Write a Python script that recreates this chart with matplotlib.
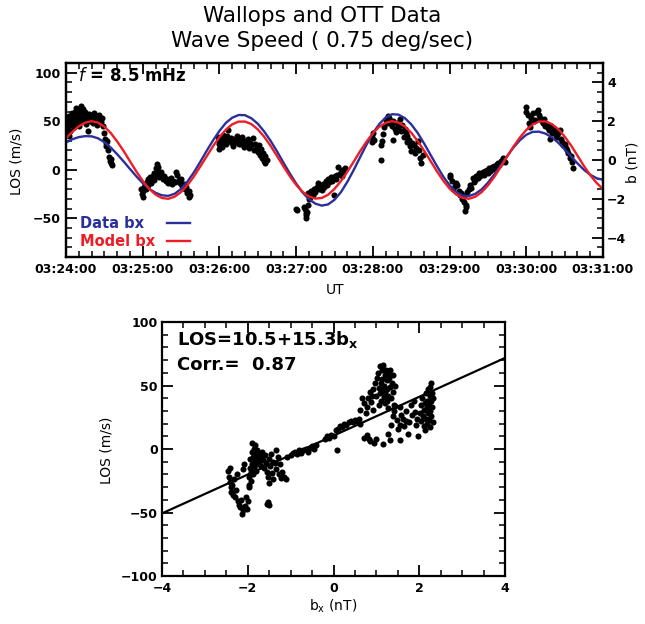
import matplotlib
matplotlib.use('Agg')
import matplotlib.pyplot as plt
import numpy as np
from matplotlib.ticker import MultipleLocator

plt.rcParams['font.family'] = ['DejaVu Sans']

# time axis: seconds after 03:24:00
ut_ticks = [0, 60, 120, 180, 240, 300, 360, 420]
ut_labels = ['03:24:00', '03:25:00', '03:26:00', '03:27:00',
             '03:28:00', '03:29:00', '03:30:00', '03:31:00']

# bx curves (nT), sampled every 5 s from 03:24:00
bx_t = np.arange(0, 425, 5)
bx_data = [0.90, 1.07, 1.18, 1.23, 1.22, 1.12, 0.92, 0.64, 0.30, -0.07,
           -0.46, -0.84, -1.19, -1.48, -1.69, -1.82, -1.85, -1.74, -1.49, -1.11,
           -0.64, -0.10, 0.47, 1.01, 1.50, 1.91, 2.18, 2.32, 2.31, 2.15,
           1.87, 1.47, 0.99, 0.45, -0.13, -0.69, -1.21, -1.67, -2.02, -2.25,
           -2.35, -2.29, -2.05, -1.66, -1.13, -0.52, 0.14, 0.79, 1.38, 1.85,
           2.19, 2.36, 2.34, 2.16, 1.84, 1.40, 0.86, 0.28, -0.30, -0.85,
           -1.30, -1.64, -1.83, -1.86, -1.75, -1.52, -1.17, -0.74, -0.27, 0.20,
           0.65, 1.02, 1.30, 1.45, 1.46, 1.36, 1.17, 0.89, 0.55, 0.19,
           -0.17, -0.50, -0.76, -0.94, -1.02]
bx_model = [1.12, 1.45, 1.74, 1.93, 2.00, 1.93, 1.72, 1.39, 0.96, 0.47,
            -0.06, -0.59, -1.07, -1.48, -1.78, -1.96, -2.00, -1.89, -1.65, -1.30,
            -0.85, -0.34, 0.19, 0.71, 1.18, 1.56, 1.84, 1.98, 1.98, 1.85,
            1.58, 1.20, 0.73, 0.21, -0.32, -0.83, -1.28, -1.64, -1.88, -1.99,
            -1.96, -1.79, -1.49, -1.09, -0.61, -0.09, 0.45, 0.94, 1.38, 1.71,
            1.92, 2.00, 1.93, 1.73, 1.41, 0.98, 0.49, -0.04, -0.57, -1.06,
            -1.47, -1.77, -1.95, -2.00, -1.90, -1.66, -1.31, -0.87, -0.36, 0.17,
            0.69, 1.16, 1.55, 1.83, 1.98, 1.99, 1.85, 1.59, 1.21, 0.75,
            0.23, -0.30, -0.78, -1.18, -1.50]

# LOS samples (seconds after 03:24:00, m/s)
top_pts = [
    (0, 38), (0.5, 45), (1, 50), (1.5, 42), (2, 35), (2, 55), (3, 48), (3.5, 40), (4, 52), (4.5, 58),
    (5, 46), (5.5, 50), (6, 44), (6.5, 55), (7, 60), (7.5, 52), (8, 64), (8.5, 48), (9, 57), (9.5, 62),
    (10, 53), (10.5, 45), (11, 60), (11.5, 66), (12, 55), (12.5, 50), (13, 63), (13.5, 58), (14, 52),
    (15, 60), (15.5, 47), (16, 55), (17, 40), (17.5, 52), (18, 57), (19, 50), (20, 55), (21, 48),
    (22, 58), (23, 53), (24, 46), (25, 52), (26, 56), (27, 49), (28, 53), (29, 45), (30, 38),
    (30.5, 32), (31, 28), (31.5, 24), (32, 30), (33, 20), (34, 13), (34.5, 9), (35, 7), (35.5, 11), (36, 5),
    (59, -20), (59.5, -25), (60, -28), (60.5, -22), (61, -18), (62, -15), (62.5, -20), (63, -13),
    (64, -16), (64.5, -10), (65, -12), (66, -8), (66.5, -14), (67, -9), (68, -6), (68.5, -11),
    (69, -3), (69.5, -7), (70, 2), (70.5, -5), (71, 6), (71.5, 0), (72, 3), (72.5, -4), (73, -8),
    (74, -2), (75, -6), (76, -10), (77, -7), (78, -12), (79, -10), (80, -14), (81, -12), (82, -9),
    (83, -15), (84, -12), (85, -13), (86, -2), (87, -5), (88, -11), (89, -14), (90, -10), (91, -17),
    (92, -15), (93, -20), (94, -18), (95, -24), (96, -22), (96.5, -28), (97, -26),
    (119, 34), (119.5, 30), (120, 26), (120, 21), (121, 33), (122, 29), (122, 23), (123, 36),
    (124, 31), (125, 27), (126, 35), (127, 41), (128, 30), (129, 33), (130, 28), (131, 24),
    (132, 32), (133, 29), (134, 35), (135, 26), (136, 31), (137, 27), (138, 34), (139, 23),
    (140, 30), (141, 26), (142, 32), (143, 22), (144, 28), (145, 25), (146, 33), (147, 20),
    (148, 27), (149, 23), (150, 18), (151, 25), (152, 15), (152.5, 21), (153, 12), (154, 17),
    (155, 9), (155.5, 14), (156, 7), (157, 10),
    (180, -40), (181, -42), (186, -38), (187, -41), (187.5, -45), (188, -47), (188, -50),
    (188.5, -44), (189, -36), (189.5, -24), (190, -30), (191, -28), (192, -22), (193, -26),
    (194, -20), (195, -23), (196, -18), (197, -14), (198, -20), (199, -17), (200, -21),
    (201, -15), (202, -18), (203, -12), (204, -16), (205, -10), (206, -13), (207, -8),
    (208, -12), (209, -9), (209.5, -26), (210, -6), (211, -10), (212, -5), (213, 3),
    (214, -4), (215, -2), (215.5, -7), (216, 0), (217, -3), (218, 2),
    (239, 34), (239.5, 29), (240, 38), (241, 31), (246, 25), (246, 10), (247, 30), (248, 37),
    (249, 44), (250, 51), (251, 48), (252, 55), (253, 53), (254, 47), (255, 45), (255.5, 50),
    (256, 31), (257, 42), (258, 39), (259, 48), (260, 44), (261, 52), (262, 40), (263, 46),
    (264, 34), (265, 42), (266, 38), (266.5, 29), (267, 35), (268, 31), (269, 24), (270, 19),
    (271, 28), (272, 25), (273, 17), (274, 22), (275, 30), (276, 20), (277, 12), (278, 7), (279, 15),
    (300, -5), (300.5, -8), (302, -12), (303, -20), (304, -17), (305, -14), (306, -16),
    (307, -22), (308, -26), (309, -24), (310, -30), (311, -33), (311.5, -27), (312, -43),
    (312.5, -38), (313, -36), (314, -23), (315, -20), (316, -16), (317, -19), (318, -9),
    (319, -13), (320, -11), (321, -7), (322, -9), (323, -3), (324, -6), (325, -4), (326, -2),
    (327, -5), (328, -1), (329, 0), (330, -3), (331, 2), (332, -1), (333, 3), (334, 1),
    (335, 4), (336, 2), (337, 6), (338, 7), (339, 5), (340, 9), (341, 8), (342, 12), (343, 8),
    (360, 65), (360, 60), (361, 56), (362, 48), (363, 44), (364, 53), (365, 58), (366, 50),
    (367, 51), (368, 60), (369, 62), (370, 56), (371, 53), (372, 50), (373, 48), (374, 52),
    (375, 45), (376, 47), (377, 43), (378, 41), (378.5, 32), (379, 45), (380, 38), (381, 39),
    (382, 42), (383, 36), (384, 34), (385, 38), (386, 41), (387, 32), (388, 29), (389, 25),
    (390, 27), (391, 22), (392, 20), (393, 17), (394, 12), (395, 14), (395.5, 8), (396.5, 1.5),
]

# LOS vs bx scatter (nT, m/s)
bot_pts = [
    (-2.45, -17), (-2.43, -22), (-2.41, -15), (-2.41, -26), (-2.40, -30), (-2.38, -34), (-2.36, -28),
    (-2.34, -36), (-2.32, -24), (-2.30, -38), (-2.28, -32), (-2.25, -20), (-2.22, -41), (-2.20, -44),
    (-2.18, -46), (-2.16, -40), (-2.14, -51), (-2.12, -48), (-2.10, -16), (-2.08, -12), (-2.06, -45),
    (-2.04, -38), (-2.01, -47), (-1.99, -41),
    (-1.98, -28), (-1.97, -22), (-1.96, -30), (-1.95, -15), (-1.94, -8), (-1.93, -25), (-1.92, -18),
    (-1.91, -2), (-1.90, -12), (-1.89, 5), (-1.88, -20), (-1.87, -6), (-1.86, 0), (-1.85, -14),
    (-1.84, 3), (-1.83, -10), (-1.82, -4), (-1.81, -17), (-1.80, -8), (-1.79, -1), (-1.78, -12),
    (-1.77, -5),
    (-1.74, -10), (-1.72, -3), (-1.70, -7), (-1.68, -13), (-1.66, -2), (-1.64, -9), (-1.62, -15),
    (-1.60, -5), (-1.58, -11), (-1.55, -18), (-1.53, -22), (-1.51, -27), (-1.50, -8), (-1.48, -13),
    (-1.46, -4), (-1.44, -19), (-1.42, -10), (-1.40, -24), (-1.37, -11), (-1.35, -16), (-1.33, -1),
    (-1.30, -6), (-1.27, -20), (-1.25, -12), (-1.22, -23), (-1.20, -18), (-1.15, -22), (-1.10, -24),
    (-1.08, -6), (-1.56, -43), (-1.50, -44), (-1.53, -42),
    (-1.00, -5), (-0.95, -3), (-0.90, -2), (-0.85, -4), (-0.80, -1), (-0.75, -3), (-0.70, -1),
    (-0.65, 0), (-0.60, -2), (-0.55, 1), (-0.50, 2), (-0.45, 0), (-0.40, 3), (-0.20, 8),
    (-0.15, 10), (-0.10, 9), (-0.05, 11), (0.00, 10), (0.07, -1),
    (0.05, 15), (0.10, 16), (0.15, 18), (0.20, 17), (0.25, 20), (0.30, 19), (0.35, 21), (0.40, 22),
    (0.45, 21), (0.50, 23), (0.55, 22), (0.60, 24), (0.62, 20),
    (0.62, 31), (0.66, 40), (0.70, 36), (0.72, 9), (0.75, 28), (0.77, 33), (0.77, 11), (0.80, 40),
    (0.82, 8), (0.85, 45), (0.85, 6), (0.88, 37), (0.90, 42), (0.93, 47), (0.93, 31), (0.95, 5),
    (0.97, 52), (0.98, 8),
    (1.00, 42), (1.02, 56), (1.04, 60), (1.05, 48), (1.06, 35), (1.08, 65), (1.09, 44), (1.10, 52),
    (1.11, 38), (1.12, 62), (1.13, 46), (1.14, 55), (1.15, 4), (1.16, 66), (1.17, 41), (1.18, 50),
    (1.19, 58), (1.20, 36), (1.21, 45), (1.22, 62), (1.24, 38), (1.24, 54), (1.25, 47), (1.26, 60),
    (1.27, 32), (1.28, 42), (1.30, 56), (1.31, 62), (1.32, 49), (1.34, 40), (1.36, 52), (1.38, 58),
    (1.39, 45), (1.41, 35), (1.43, 50),
    (1.28, 12), (1.31, 7), (1.35, 19), (1.38, 26), (1.42, 30), (1.44, 34), (1.47, 23), (1.50, 16),
    (1.54, 19), (1.55, 7), (1.55, 33), (1.58, 27), (1.62, 24), (1.65, 18), (1.68, 30), (1.70, 22),
    (1.74, 12), (1.77, 21), (1.80, 35), (1.84, 27), (1.88, 38), (1.90, 29), (1.93, 19), (1.95, 24),
    (1.97, 10),
    (2.02, 28), (2.04, 35), (2.05, 22), (2.07, 40), (2.09, 26), (2.10, 31), (2.12, 18), (2.13, 15),
    (2.14, 36), (2.15, 24), (2.16, 44), (2.17, 20), (2.18, 33), (2.19, 38), (2.20, 28), (2.21, 47),
    (2.22, 23), (2.23, 35), (2.24, 42), (2.25, 17), (2.25, 30), (2.26, 49), (2.27, 26), (2.28, 52),
    (2.28, 38), (2.29, 44), (2.30, 33), (2.31, 21), (2.32, 40),
]

fit_a, fit_b = 10.5, 15.3
corr = 0.87

data_col = '#2a2f9c'
model_col = '#ee1c25'

fig = plt.figure(figsize=(6.45, 6.24), dpi=100)
W, H = 645., 624.

# ---------------- top panel ----------------
ax1 = fig.add_axes([66 / W, 1 - 257 / H, 537 / W, 194 / H])
ax1.set_xlim(0, 420)
ax1.set_ylim(-90, 110)
tp = np.array(top_pts)
ax1.plot(tp[:, 0], tp[:, 1], 'o', color='k', ms=4.4, mec='none')

ax2 = ax1.twinx()
ax2.set_ylim(-5, 5)
ax2.plot(bx_t, bx_data, color=data_col, lw=1.7)
ax2.plot(bx_t, bx_model, color=model_col, lw=1.7)

ax1.set_xticks(ut_ticks, ut_labels, fontweight='bold', fontsize=9)
ax1.xaxis.set_minor_locator(MultipleLocator(10))
ax1.set_yticks([-50, 0, 50, 100], ['−50', '0', '50', '100'], fontweight='bold', fontsize=9)
ax1.yaxis.set_minor_locator(MultipleLocator(10))
ax2.set_yticks([-4, -2, 0, 2, 4], ['−4', '−2', '0', '2', '4'], fontweight='bold', fontsize=9)
ax2.yaxis.set_minor_locator(MultipleLocator(0.5))

ax1.tick_params(axis='x', which='both', direction='in', top=True, bottom=True, pad=4)
ax1.tick_params(axis='y', which='both', direction='in', left=True, right=False, pad=4)
ax2.tick_params(axis='y', which='both', direction='in', right=True, left=False, pad=3)
for a in (ax1, ax2):
    a.tick_params(which='major', length=8, width=1.3)
    a.tick_params(which='minor', length=4, width=1.1)
    for s in a.spines.values():
        s.set_linewidth(1.6)

ax1.text(0.022, 0.933, r'$\it{f}$ = 8.5 mHz', transform=ax1.transAxes,
         fontsize=12, fontweight='bold', va='center', ha='left')
ax1.text(0.026, 0.173, 'Data bx', color=data_col, transform=ax1.transAxes,
         fontsize=10.5, fontweight='bold', va='center', ha='left')
ax1.text(0.026, 0.082, 'Model bx', color=model_col, transform=ax1.transAxes,
         fontsize=10.5, fontweight='bold', va='center', ha='left')
ax1.plot([0.188, 0.231], [0.173, 0.173], color=data_col, lw=1.7, transform=ax1.transAxes)
ax1.plot([0.188, 0.231], [0.082, 0.082], color=model_col, lw=1.7, transform=ax1.transAxes)

fig.text(16.5 / W, 1 - 161.5 / H, 'LOS (m/s)', rotation=90, ha='center', va='center', fontsize=10)
fig.text(633 / W, 1 - 162 / H, 'b (nT)', rotation=90, ha='center', va='center', fontsize=10)
fig.text(335 / W, 1 - 290 / H, 'UT', ha='center', va='center', fontsize=10)

fig.text(0.5, 1 - 16 / H, 'Wallops and OTT Data', ha='center', va='center',
         fontsize=15.5, color='k')
fig.text(0.5, 1 - 41 / H, 'Wave Speed ( 0.75 deg/sec)', ha='center', va='center',
         fontsize=15.5, color='k')

# ---------------- bottom panel ----------------
ax3 = fig.add_axes([162 / W, 1 - 576 / H, 343 / W, 254 / H])
ax3.set_xlim(-4, 4)
ax3.set_ylim(-100, 100)
bp = np.array(bot_pts)
ax3.plot(bp[:, 0], bp[:, 1], 'o', color='k', ms=4.4, mec='none')
fx = np.array([-4, 4])
ax3.plot(fx, fit_a + fit_b * fx, color='k', lw=1.6)

ax3.set_xticks([-4, -2, 0, 2, 4], ['−4', '−2', '0', '2', '4'], fontweight='bold', fontsize=9)
ax3.xaxis.set_minor_locator(MultipleLocator(0.5))
ax3.set_yticks([-100, -50, 0, 50, 100], ['−100', '−50', '0', '50', '100'], fontweight='bold', fontsize=9)
ax3.yaxis.set_minor_locator(MultipleLocator(10))
ax3.tick_params(axis='x', which='both', direction='in', top=True, bottom=True, pad=4.5)
ax3.tick_params(axis='y', which='both', direction='in', left=True, right=True, pad=3)
ax3.tick_params(which='major', length=8, width=1.3)
ax3.tick_params(which='minor', length=4, width=1.1)
for s in ax3.spines.values():
    s.set_linewidth(1.6)

ax3.text(0.045, 0.93, r'LOS=%.1f+%.1fb$_\mathbf{x}$' % (fit_a, fit_b), transform=ax3.transAxes,
         fontsize=13, fontweight='bold', va='center', ha='left')
ax3.text(0.045, 0.83, 'Corr.=  %.2f' % corr, transform=ax3.transAxes,
         fontsize=13, fontweight='bold', va='center', ha='left')

fig.text(106 / W, 1 - 450 / H, 'LOS (m/s)', rotation=90, ha='center', va='center', fontsize=10)
fig.text(333 / W, 1 - 606 / H, r'b$_\mathregular{x}$ (nT)', ha='center', va='center', fontsize=10)

fig.savefig('out.png', dpi=100)
